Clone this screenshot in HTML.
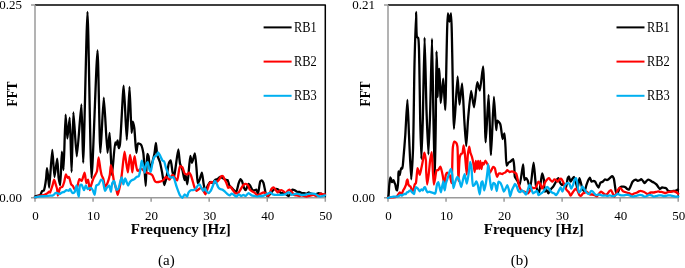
<!DOCTYPE html>
<html><head><meta charset="utf-8"><style>
html,body{margin:0;padding:0;background:#fff;width:685px;height:268px;overflow:hidden;}
svg{display:block;will-change:transform;}
</style></head><body>
<svg width="685" height="268" viewBox="0 0 685 268">
<style>
.tk { font-family: "Liberation Serif", serif; font-size: 13.3px; fill: #000; }
.lg { font-family: "Liberation Serif", serif; font-size: 13.6px; fill: #000; }
.ttl { font-family: "Liberation Serif", serif; font-size: 14.5px; font-weight: bold; fill: #000; }
.sub { font-family: "Liberation Serif", serif; font-size: 15px; fill: #000; }
.d polyline, .d path { fill: none; stroke-width: 2.3; stroke-linejoin: round; stroke-linecap: round; }
</style>
<rect width="685" height="268" fill="#fff"/>
<path d="M35,4.9 H325.3 V197.8" stroke="#000" stroke-width="1.5" stroke-linejoin="round" fill="none"/>
<path d="M35,4.9 V197.8 M31,4.9 H35 M31,197.8 H35" stroke="#9a9a9a" stroke-width="1.5" fill="none"/>
<path d="M35,197.8 H325.3 M35.00,197.8 V201.8 M93.06,197.8 V201.8 M151.12,197.8 V201.8 M209.18,197.8 V201.8 M267.24,197.8 V201.8 M325.30,197.8 V201.8 " stroke="#9a9a9a" stroke-width="1.5" fill="none"/>
<path d="M388,4.9 H678.2 V197.8" stroke="#000" stroke-width="1.5" stroke-linejoin="round" fill="none"/>
<path d="M388,4.9 V197.8 M384,4.9 H388 M384,197.8 H388" stroke="#9a9a9a" stroke-width="1.5" fill="none"/>
<path d="M388,197.8 H678.2 M388.00,197.8 V201.8 M446.04,197.8 V201.8 M504.08,197.8 V201.8 M562.12,197.8 V201.8 M620.16,197.8 V201.8 M678.20,197.8 V201.8 " stroke="#9a9a9a" stroke-width="1.5" fill="none"/>
<g class="d">
<path d="M35.00,196.60 C35.00,196.60 36.57,195.92 37.00,195.80 C37.47,195.67 39.12,195.57 39.50,195.40 C39.79,195.27 40.41,194.76 40.60,194.50 C40.86,194.15 41.38,192.38 41.60,192.00 C41.75,191.74 42.19,191.16 42.40,191.00 C42.62,190.83 43.58,190.66 43.80,190.40 C44.17,189.98 44.70,187.43 44.90,186.50 C45.18,185.19 45.90,180.20 46.10,178.50 C46.33,176.57 46.79,168.21 47.00,168.20 C47.18,168.20 47.81,173.60 48.00,175.20 C48.25,177.31 48.92,187.50 49.20,187.50 C49.69,187.50 51.73,150.00 52.30,150.00 C52.78,150.00 53.94,176.98 54.50,177.00 C54.96,177.02 56.79,158.69 57.20,158.70 C57.61,158.71 58.18,174.60 58.60,177.50 C58.86,179.35 59.93,185.02 60.20,185.00 C60.76,184.96 61.51,151.71 61.90,151.70 C62.19,151.69 63.21,170.01 63.50,170.00 C64.01,169.99 65.10,114.61 65.60,114.60 C65.93,114.59 66.97,138.49 67.40,138.50 C67.80,138.51 69.33,117.59 69.70,117.60 C70.30,117.62 71.24,172.00 71.60,172.00 C71.98,172.00 72.81,112.41 73.40,112.40 C73.91,112.39 76.04,156.40 76.80,156.40 C77.63,156.40 80.76,104.38 81.40,104.40 C82.08,104.42 82.77,162.80 83.20,162.80 C83.89,162.80 86.68,11.80 87.50,11.80 C88.36,11.80 90.50,177.89 91.60,177.90 C92.56,177.91 96.60,50.29 97.50,50.30 C98.31,50.31 99.62,152.79 100.40,152.80 C100.97,152.81 103.09,97.60 103.80,97.60 C104.51,97.60 106.79,152.79 107.50,152.80 C107.93,152.81 109.22,132.79 109.60,132.80 C110.15,132.81 111.27,174.98 111.90,175.00 C112.45,175.01 114.54,142.42 115.30,142.30 C115.51,142.26 116.19,144.72 116.40,144.70 C116.66,144.68 117.39,140.49 117.60,140.50 C117.89,140.52 118.51,148.18 118.80,148.20 C119.00,148.21 119.69,145.85 119.90,144.70 C120.76,140.10 123.00,85.70 123.70,85.70 C124.37,85.70 126.22,140.00 126.80,140.00 C127.38,140.00 129.01,86.90 129.50,86.90 C129.96,86.90 131.14,132.79 131.60,132.80 C131.83,132.81 132.47,121.72 132.80,121.70 C133.05,121.68 134.03,126.31 134.30,128.00 C134.82,131.31 135.81,152.78 136.30,152.80 C136.60,152.82 137.23,143.93 138.00,143.50 C138.45,143.25 140.52,144.17 141.00,144.70 C141.77,145.56 142.91,150.60 143.30,152.80 C144.07,157.17 145.30,186.00 145.70,186.00 C146.09,186.00 146.53,154.19 147.30,154.00 C147.51,153.95 148.29,155.39 148.50,156.00 C149.00,157.47 149.62,169.36 150.10,169.40 C150.47,169.43 151.98,163.51 152.40,162.00 C152.84,160.44 154.07,155.74 154.40,154.00 C154.79,151.97 155.62,142.90 155.90,142.90 C156.20,142.90 156.79,153.13 157.30,155.20 C157.69,156.79 159.45,160.48 159.90,162.00 C160.44,163.84 161.68,170.22 162.10,172.40 C162.56,174.80 163.79,184.97 164.30,185.00 C164.71,185.02 166.19,178.74 166.60,176.90 C167.12,174.56 168.16,165.09 168.80,163.40 C169.13,162.54 170.38,160.33 170.70,160.40 C171.27,160.52 172.09,170.17 172.50,172.00 C172.78,173.22 173.73,177.02 174.00,177.00 C174.36,176.98 175.16,170.12 175.50,168.00 C175.98,164.96 177.83,149.49 178.30,149.50 C178.71,149.51 179.46,161.16 180.00,163.40 C180.38,164.99 181.98,168.53 182.40,170.00 C182.91,171.78 184.16,180.00 184.50,180.00 C184.74,180.00 185.27,175.00 185.50,175.00 C185.82,175.00 187.04,184.42 187.40,184.40 C188.03,184.37 189.65,155.84 190.30,155.80 C190.62,155.78 191.59,162.79 192.00,162.80 C192.48,162.81 194.45,153.36 194.90,153.40 C195.50,153.46 196.39,167.80 196.70,171.00 C196.96,173.66 197.32,183.10 197.80,183.20 C198.06,183.25 199.16,180.79 199.50,180.00 C199.99,178.85 201.50,172.67 201.90,172.70 C202.39,172.74 203.30,182.37 203.70,184.40 C204.01,185.99 204.97,191.37 205.40,191.40 C205.80,191.43 207.27,186.51 207.80,185.50 C208.23,184.68 209.56,182.17 210.10,182.00 C210.53,181.87 212.03,183.11 212.50,183.00 C213.10,182.86 214.80,180.09 215.40,179.70 C215.85,179.41 217.27,179.25 217.70,179.00 C218.20,178.71 219.50,176.88 220.00,176.80 C220.47,176.73 221.99,177.73 222.50,178.00 C223.05,178.30 224.75,179.51 225.30,179.70 C225.75,179.86 227.14,179.70 227.50,180.00 C228.09,180.48 228.89,184.66 229.40,185.50 C229.79,186.13 231.24,187.43 231.70,187.90 C232.16,188.37 233.56,189.73 234.00,190.20 C234.42,190.65 235.63,192.58 236.00,192.50 C236.65,192.36 238.17,184.67 238.70,183.20 C239.06,182.20 240.11,179.15 240.50,179.10 C240.79,179.06 241.72,180.47 242.00,181.00 C242.47,181.92 243.51,186.92 244.00,187.90 C244.31,188.52 245.35,190.24 245.70,190.20 C246.25,190.14 248.07,183.87 248.60,183.80 C248.90,183.76 249.70,185.06 250.00,185.50 C250.48,186.19 252.06,189.83 252.70,190.20 C253.12,190.44 254.62,190.29 255.00,190.20 C255.29,190.13 255.98,189.52 256.20,189.60 C256.61,189.75 257.67,193.74 258.00,193.70 C258.55,193.64 259.61,182.50 260.30,181.40 C260.57,180.98 261.52,180.25 261.80,180.30 C262.17,180.37 263.22,182.31 263.50,183.00 C263.91,184.00 264.63,188.35 264.90,189.60 C265.15,190.72 265.60,194.28 266.10,194.90 C266.44,195.33 267.97,196.09 268.40,196.00 C268.92,195.88 270.30,193.71 270.80,193.10 C271.35,192.43 273.09,189.99 273.70,189.60 C274.14,189.32 275.53,189.00 276.00,189.00 C276.47,189.00 277.97,189.30 278.40,189.60 C278.95,189.99 280.15,192.80 280.70,193.10 C281.11,193.32 282.52,193.01 283.00,193.10 C283.57,193.21 285.42,194.01 286.00,194.30 C286.60,194.59 288.45,196.14 288.90,196.00 C289.39,195.85 290.24,193.16 290.60,192.50 C290.94,191.88 291.94,189.79 292.40,189.60 C292.79,189.45 294.26,189.99 294.70,190.20 C295.18,190.43 296.51,191.74 297.00,191.90 C297.45,192.05 298.94,191.79 299.40,191.90 C299.88,192.02 301.23,192.98 301.70,193.10 C302.15,193.21 303.54,193.04 304.00,193.10 C304.48,193.16 305.94,193.76 306.40,193.70 C306.88,193.64 308.24,192.50 308.70,192.50 C309.16,192.50 310.52,193.52 311.00,193.70 C311.46,193.88 312.92,194.24 313.40,194.30 C313.86,194.36 315.22,194.39 315.70,194.30 C316.26,194.19 318.04,193.14 318.60,193.10 C319.10,193.06 320.50,193.54 321.00,193.70 C321.56,193.88 323.45,194.79 323.90,194.90 C324.17,194.97 325.00,195.00 325.00,195.00" stroke="#000" />
<path d="M35.00,197.40 C35.00,197.40 36.61,197.07 37.00,196.90 C37.42,196.72 38.58,195.72 39.00,195.60 C39.38,195.49 40.59,195.64 41.00,195.60 C41.43,195.56 42.79,195.32 43.20,195.20 C43.58,195.09 44.61,194.68 45.00,194.50 C45.48,194.28 47.17,193.42 47.60,193.10 C47.96,192.83 48.83,191.60 49.10,191.60 C49.32,191.60 49.93,192.64 50.10,192.60 C50.36,192.54 50.88,190.26 51.10,189.60 C51.37,188.79 52.31,186.05 52.60,185.10 C52.92,184.06 53.81,179.62 54.10,179.60 C54.30,179.59 54.91,181.55 55.10,182.10 C55.32,182.74 55.90,184.91 56.10,185.60 C56.30,186.29 56.93,188.20 57.10,189.00 C57.32,190.08 57.63,195.48 57.90,195.50 C58.20,195.52 59.43,188.72 60.10,187.90 C60.48,187.43 62.02,187.12 62.40,186.70 C62.92,186.11 63.88,183.07 64.20,182.00 C64.60,180.67 65.46,174.46 65.90,174.40 C66.21,174.36 67.33,177.83 67.70,177.90 C67.94,177.94 68.67,176.74 68.90,176.80 C69.41,176.94 70.62,183.46 71.20,184.40 C71.52,184.92 72.65,185.64 73.00,186.10 C73.49,186.75 74.85,190.51 75.30,190.50 C75.75,190.49 77.12,187.02 77.50,186.00 C77.96,184.79 78.81,179.30 79.40,179.10 C79.77,178.97 81.29,180.93 81.70,180.80 C82.42,180.58 84.14,172.66 84.60,172.70 C85.11,172.74 85.91,183.13 86.40,183.20 C86.69,183.24 87.81,179.66 88.10,179.70 C88.59,179.77 89.54,190.19 89.90,190.20 C90.14,190.21 90.80,186.53 91.10,185.50 C91.47,184.23 92.83,179.88 93.40,178.50 C93.99,177.08 96.39,173.19 96.90,171.50 C97.58,169.23 98.23,157.51 98.60,157.50 C98.94,157.49 100.05,167.27 100.40,169.20 C100.65,170.57 101.26,173.96 101.60,175.00 C101.89,175.89 103.09,178.05 103.40,179.00 C103.81,180.27 104.49,186.60 105.00,186.70 C105.38,186.78 106.98,184.09 107.40,183.20 C108.00,181.94 109.45,176.73 109.80,175.00 C110.17,173.13 110.60,165.12 110.90,165.10 C111.13,165.09 112.03,169.63 112.30,171.00 C112.67,172.85 113.64,180.02 114.10,182.00 C114.49,183.67 116.03,188.21 116.40,189.60 C116.70,190.75 117.32,194.89 117.60,194.90 C117.90,194.91 118.98,190.32 119.30,189.00 C119.69,187.36 120.80,181.58 121.10,179.70 C121.40,177.79 122.03,172.25 122.30,170.00 C122.68,166.92 124.07,151.71 124.50,151.70 C124.81,151.69 125.69,159.05 126.00,161.00 C126.35,163.16 127.49,172.40 127.80,172.40 C128.08,172.40 128.76,164.80 129.00,163.00 C129.22,161.33 129.87,155.00 130.10,155.00 C130.31,155.00 131.00,160.46 131.20,162.00 C131.45,163.87 132.07,172.40 132.30,172.40 C132.51,172.40 133.15,164.72 133.40,163.00 C133.62,161.53 134.36,156.20 134.60,156.20 C134.88,156.20 135.68,163.44 136.00,165.00 C136.26,166.27 136.96,170.36 137.40,170.70 C137.59,170.85 138.30,170.78 138.50,170.70 C138.74,170.60 139.31,169.76 139.60,169.60 C139.97,169.39 141.57,168.88 142.00,169.00 C142.46,169.13 143.56,170.66 144.00,171.00 C144.44,171.34 145.97,172.18 146.40,172.40 C146.73,172.57 147.55,172.96 147.90,173.10 C148.34,173.28 150.04,173.76 150.50,174.00 C150.93,174.23 152.06,174.97 152.40,175.40 C152.93,176.07 154.12,179.92 154.60,180.60 C154.89,181.01 155.73,181.85 156.10,182.00 C156.50,182.16 158.01,182.06 158.50,182.00 C159.04,181.93 160.79,181.51 161.30,181.30 C161.78,181.10 163.09,180.37 163.50,180.00 C164.00,179.55 165.33,176.98 165.80,176.90 C166.14,176.84 167.15,177.75 167.50,178.00 C167.91,178.29 169.23,179.78 169.60,179.70 C170.06,179.60 171.06,176.48 171.50,176.00 C171.79,175.68 172.80,174.93 173.10,175.00 C173.51,175.09 174.58,177.46 175.00,178.00 C175.40,178.51 176.82,180.41 177.20,180.30 C178.01,180.06 179.05,166.78 180.00,166.30 C180.41,166.09 181.99,166.96 182.40,167.40 C183.04,168.09 184.03,172.85 184.70,173.50 C185.13,173.92 186.85,174.50 187.30,174.40 C187.72,174.31 188.76,172.67 189.10,172.70 C189.46,172.73 190.50,174.40 190.80,175.00 C191.24,175.87 192.25,179.63 192.60,180.80 C192.95,181.97 193.85,185.65 194.30,186.70 C194.70,187.62 196.16,190.70 196.70,190.80 C197.12,190.88 198.52,189.29 199.00,189.00 C199.46,188.72 200.97,187.78 201.40,187.90 C201.94,188.06 203.28,190.73 203.70,191.40 C204.07,192.00 205.06,194.33 205.40,194.30 C205.88,194.26 207.36,189.08 207.80,187.90 C208.17,186.89 208.98,183.79 209.50,183.20 C209.88,182.77 211.43,182.00 211.90,182.00 C212.37,182.00 213.74,183.20 214.20,183.20 C214.66,183.20 216.06,182.32 216.50,182.00 C217.00,181.64 218.45,180.24 218.90,179.70 C219.40,179.10 220.69,176.48 221.20,176.20 C221.54,176.02 222.69,176.01 223.00,176.20 C223.45,176.48 224.35,179.00 224.70,179.70 C225.05,180.40 226.17,182.44 226.50,183.20 C226.87,184.06 227.69,187.70 228.20,187.90 C228.57,188.04 230.08,186.59 230.50,186.70 C231.04,186.83 232.41,189.54 232.90,190.20 C233.35,190.82 234.64,192.83 235.20,193.10 C235.70,193.34 237.60,193.36 238.10,193.10 C238.70,192.78 240.01,190.36 240.50,189.60 C241.06,188.74 242.76,185.47 243.40,184.90 C243.83,184.51 245.25,183.76 245.70,183.80 C246.19,183.84 247.71,185.01 248.10,185.50 C248.58,186.10 249.33,188.99 249.80,189.60 C250.19,190.10 251.69,191.06 252.20,191.40 C252.74,191.76 254.58,192.69 255.10,193.10 C255.60,193.50 256.81,195.31 257.30,195.40 C257.74,195.48 259.18,194.55 259.70,194.30 C260.34,193.99 262.56,192.57 263.20,192.50 C263.70,192.45 265.08,192.83 265.50,193.10 C266.02,193.44 267.37,196.00 267.80,196.00 C268.18,196.00 269.28,194.27 269.60,193.70 C270.02,192.95 270.92,189.67 271.40,189.00 C271.75,188.51 273.11,187.26 273.50,187.30 C273.91,187.34 275.00,189.11 275.40,189.60 C275.85,190.15 277.35,192.48 277.80,192.50 C278.16,192.52 279.13,191.03 279.50,190.80 C279.83,190.59 280.92,190.17 281.30,190.20 C281.74,190.24 283.16,191.08 283.60,191.40 C284.10,191.76 285.59,193.76 286.00,193.70 C286.41,193.64 287.30,191.22 287.70,190.80 C288.02,190.46 289.14,189.56 289.50,189.60 C289.95,189.65 291.35,191.49 291.80,192.00 C292.27,192.54 293.54,194.57 294.10,194.90 C294.60,195.20 296.45,195.28 297.00,195.40 C297.50,195.51 298.93,196.00 299.40,196.00 C299.87,196.00 301.24,195.40 301.70,195.40 C302.16,195.40 303.53,195.88 304.00,196.00 C304.47,196.12 305.93,196.60 306.40,196.60 C306.87,196.60 308.24,196.12 308.70,196.00 C309.16,195.88 310.53,195.51 311.00,195.40 C311.47,195.29 312.90,194.86 313.40,194.90 C313.96,194.94 315.75,195.97 316.30,196.00 C316.78,196.03 318.15,195.61 318.60,195.40 C319.10,195.17 320.50,193.79 321.00,193.70 C321.45,193.62 322.87,194.25 323.30,194.30 C323.66,194.35 325.00,194.30 325.00,194.30" stroke="#ff0000" />
<path d="M35.00,197.40 C35.00,197.40 39.00,196.52 40.00,196.40 C41.00,196.28 44.00,196.27 45.00,196.20 C46.02,196.13 49.26,195.76 50.10,195.70 C50.69,195.66 52.21,195.72 52.60,195.60 C52.88,195.51 53.47,195.09 53.70,194.90 C54.02,194.64 55.02,193.27 55.40,193.10 C55.73,192.96 56.83,193.02 57.20,193.10 C57.64,193.20 59.05,194.24 59.50,194.20 C59.99,194.16 61.40,192.73 61.90,192.50 C62.35,192.29 63.76,192.11 64.20,191.90 C64.68,191.67 66.01,190.30 66.50,190.20 C66.95,190.11 68.55,190.95 68.90,190.80 C69.23,190.67 69.74,189.00 70.00,189.00 C70.39,189.00 71.84,192.83 72.40,193.00 C72.82,193.12 74.33,192.34 74.70,191.90 C75.30,191.19 76.20,185.48 76.50,185.50 C76.82,185.52 77.53,191.78 77.80,193.00 C77.99,193.86 78.62,196.61 78.80,196.60 C79.11,196.57 79.33,186.35 80.00,185.50 C80.27,185.16 81.39,184.76 81.70,184.90 C82.26,185.14 83.58,190.21 84.00,190.20 C84.39,190.19 85.42,185.52 85.80,185.50 C86.14,185.48 87.16,188.82 87.60,189.00 C87.90,189.12 88.96,188.51 89.30,188.40 C89.64,188.29 90.69,187.80 91.00,187.90 C91.40,188.03 92.48,189.63 92.80,190.20 C93.22,190.95 94.29,194.93 94.60,194.90 C95.03,194.86 95.60,186.42 96.30,185.50 C96.66,185.02 98.19,184.80 98.60,184.40 C99.19,183.83 100.48,179.84 101.00,179.70 C101.32,179.61 102.40,180.37 102.70,180.80 C103.37,181.76 104.44,190.71 105.00,190.80 C105.33,190.85 106.38,188.43 106.80,187.90 C107.22,187.37 108.82,185.40 109.20,185.50 C109.73,185.64 110.61,191.92 110.90,191.90 C111.24,191.88 111.79,184.14 112.30,183.00 C112.59,182.36 113.78,180.73 114.10,180.80 C114.68,180.93 115.71,189.23 116.40,189.60 C116.71,189.77 117.89,189.33 118.20,189.00 C118.87,188.30 120.10,182.09 120.50,180.80 C120.77,179.95 121.46,177.29 121.70,177.30 C122.04,177.32 123.03,184.39 123.40,184.40 C123.74,184.41 124.76,178.52 125.20,178.50 C125.68,178.48 127.57,185.48 128.10,185.50 C128.48,185.52 129.45,182.57 129.90,182.00 C130.29,181.50 131.71,180.29 132.20,180.00 C132.64,179.73 134.08,179.38 134.50,179.10 C134.95,178.80 136.05,177.28 136.50,177.00 C136.90,176.75 138.36,176.66 138.70,176.30 C139.26,175.71 139.93,171.73 140.20,170.40 C140.55,168.71 141.34,160.72 141.70,160.70 C141.97,160.68 142.92,164.79 143.20,165.90 C143.52,167.15 144.41,172.61 144.70,172.60 C145.02,172.59 145.75,165.49 146.20,164.40 C146.45,163.78 147.44,162.15 147.70,162.20 C148.11,162.28 148.82,167.84 149.20,168.90 C149.46,169.64 150.44,171.93 150.70,171.90 C151.09,171.85 151.88,165.81 152.20,164.40 C152.49,163.13 153.32,159.28 153.70,158.40 C153.95,157.83 154.77,156.51 155.10,156.20 C155.37,155.95 156.34,155.67 156.60,155.40 C156.97,155.03 157.78,152.52 158.10,152.50 C158.39,152.48 159.32,154.22 159.60,154.70 C159.92,155.24 160.80,157.10 161.10,157.70 C161.40,158.30 162.23,160.34 162.60,160.70 C162.86,160.96 163.85,161.11 164.10,161.40 C164.56,161.93 165.29,165.60 165.60,166.60 C165.89,167.54 166.79,170.24 167.10,171.10 C167.39,171.90 168.22,174.23 168.60,174.90 C168.94,175.50 170.09,177.27 170.60,177.50 C171.07,177.71 172.92,176.98 173.40,177.30 C174.31,177.90 175.93,184.86 176.60,186.70 C177.25,188.48 179.25,194.25 180.00,195.40 C180.45,196.09 181.95,197.85 182.40,197.80 C182.90,197.75 184.20,194.36 184.70,194.30 C185.15,194.25 186.73,196.69 187.10,196.60 C187.52,196.50 188.09,193.17 188.50,192.50 C188.86,191.92 190.30,190.41 190.80,190.20 C191.21,190.03 192.56,190.30 193.00,190.20 C193.50,190.09 195.06,189.39 195.50,189.00 C196.05,188.52 197.31,185.97 197.80,185.50 C198.15,185.17 199.28,184.31 199.60,184.40 C200.04,184.52 201.04,187.24 201.40,187.90 C201.74,188.51 202.74,190.78 203.10,190.80 C203.44,190.82 204.56,188.38 204.90,188.40 C205.26,188.42 206.21,190.91 206.60,191.40 C206.93,191.82 208.02,193.11 208.40,193.10 C208.83,193.09 210.29,191.40 210.70,190.80 C211.25,190.00 212.58,186.53 213.00,185.50 C213.39,184.54 214.39,180.85 214.80,180.80 C215.11,180.76 216.18,182.64 216.50,183.20 C216.89,183.89 217.87,186.69 218.30,187.30 C218.62,187.76 219.68,188.77 220.10,189.00 C220.51,189.23 221.96,189.38 222.40,189.60 C222.89,189.84 224.25,191.00 224.70,191.40 C225.17,191.82 226.52,193.29 227.00,193.70 C227.46,194.09 228.93,195.40 229.40,195.40 C229.87,195.40 231.23,193.74 231.70,193.70 C232.15,193.66 233.54,194.62 234.00,194.90 C234.49,195.20 235.94,196.64 236.40,196.60 C236.88,196.56 238.22,194.34 238.70,194.30 C239.15,194.27 240.52,195.95 241.00,196.00 C241.46,196.05 242.93,194.90 243.40,194.90 C243.87,194.90 245.24,196.08 245.70,196.00 C246.28,195.90 248.00,193.14 248.60,193.10 C249.18,193.06 250.94,195.11 251.60,195.40 C252.23,195.68 254.39,195.87 255.00,196.00 C255.51,196.11 256.83,196.60 257.30,196.60 C257.77,196.60 259.22,196.06 259.70,196.00 C260.18,195.94 261.63,196.06 262.10,196.00 C262.55,195.94 263.86,195.56 264.30,195.40 C264.78,195.23 266.23,194.53 266.70,194.30 C267.17,194.07 268.56,193.29 269.00,193.10 C269.38,192.94 270.47,192.42 270.80,192.50 C271.18,192.59 272.09,194.06 272.50,194.30 C272.91,194.54 274.42,194.84 274.90,194.90 C275.38,194.96 276.83,194.90 277.30,194.90 C277.75,194.90 279.05,194.90 279.50,194.90 C279.98,194.90 281.47,194.95 282.00,194.90 C282.62,194.84 284.68,194.54 285.30,194.30 C285.94,194.06 287.77,192.55 288.30,192.50 C288.68,192.46 289.68,192.90 290.00,193.10 C290.38,193.34 291.38,194.79 291.80,194.90 C292.20,195.01 293.63,194.42 294.10,194.30 C294.57,194.18 296.00,193.71 296.50,193.70 C297.05,193.69 298.86,194.17 299.40,194.30 C299.89,194.41 301.24,194.84 301.70,194.90 C302.16,194.96 303.54,194.96 304.00,194.90 C304.48,194.84 305.87,194.41 306.40,194.30 C307.03,194.17 309.20,193.76 309.90,193.70 C310.60,193.64 312.78,193.62 313.40,193.70 C313.91,193.77 315.25,194.09 315.70,194.30 C316.20,194.53 317.60,195.77 318.10,196.00 C318.55,196.21 319.94,196.60 320.40,196.60 C320.86,196.60 322.24,196.12 322.70,196.00 C323.16,195.88 325.00,195.40 325.00,195.40" stroke="#00b0f0" />
<path d="M388.00,197.90 C388.00,197.90 388.50,195.74 388.60,195.00 C388.78,193.70 389.07,187.49 389.20,186.00 C389.29,184.94 389.58,182.37 389.70,181.50 C389.82,180.67 390.21,177.52 390.40,177.50 C390.54,177.49 391.05,179.07 391.20,179.50 C391.37,180.00 391.76,182.16 392.00,182.20 C392.23,182.24 393.25,180.17 393.50,180.20 C393.78,180.24 394.40,182.53 394.60,183.00 C394.75,183.35 395.17,184.10 395.30,184.50 C395.54,185.22 396.08,189.16 396.40,189.70 C396.54,189.94 397.06,190.45 397.20,190.40 C397.63,190.23 398.17,181.98 398.30,180.00 C398.42,178.22 398.26,171.54 398.50,171.50 C398.66,171.48 399.50,175.01 399.70,175.00 C399.93,174.98 400.39,171.07 400.60,170.30 C400.75,169.75 401.17,168.09 401.40,168.00 C401.55,167.94 402.15,168.58 402.30,168.50 C402.77,168.26 403.17,161.09 403.40,158.70 C403.76,154.99 404.94,140.21 405.30,135.00 C405.74,128.66 407.03,99.80 407.40,99.80 C407.77,99.80 408.65,127.55 409.00,135.00 C409.40,143.37 410.76,179.40 411.20,179.40 C411.56,179.40 412.71,157.43 413.00,150.00 C413.50,137.31 414.14,79.06 414.50,64.00 C414.78,52.26 415.82,11.80 416.10,11.80 C416.30,11.80 416.19,35.35 417.00,37.00 C417.20,37.41 418.00,37.59 418.20,38.00 C419.03,39.68 419.12,57.81 419.30,64.00 C419.56,73.08 419.96,109.81 420.20,120.00 C420.40,128.50 421.14,159.00 421.40,159.00 C421.66,159.00 422.53,129.24 422.80,120.00 C423.19,106.57 424.22,37.60 424.60,37.60 C424.96,37.60 426.06,97.28 426.50,110.00 C426.84,119.96 428.03,154.40 428.40,154.40 C428.77,154.40 429.87,119.93 430.20,110.00 C430.61,97.42 431.69,38.70 432.00,38.70 C432.31,38.70 433.02,95.81 433.30,110.00 C433.58,124.06 434.54,180.00 434.80,180.00 C435.04,180.00 435.63,132.41 435.80,120.00 C435.98,106.73 436.28,51.30 436.50,51.30 C436.62,51.30 437.09,65.92 437.20,70.00 C437.33,74.90 437.48,97.00 437.60,97.00 C437.72,97.00 437.98,74.56 438.40,72.00 C438.55,71.09 439.14,68.98 439.30,69.00 C439.82,69.07 440.25,102.99 440.70,103.00 C441.08,103.01 442.77,78.59 443.20,78.60 C443.69,78.61 444.83,110.01 445.20,110.00 C445.84,109.99 446.94,13.38 447.90,13.30 C448.18,13.28 449.19,21.50 449.50,21.50 C449.81,21.50 450.73,13.48 451.00,13.50 C452.02,13.58 453.12,128.88 454.00,128.90 C454.59,128.91 457.00,76.30 457.60,76.30 C458.04,76.30 459.00,104.59 459.50,104.60 C459.93,104.61 461.66,83.49 462.10,83.50 C462.68,83.52 463.85,113.32 464.30,120.00 C464.68,125.64 465.83,146.00 466.20,146.00 C466.57,146.00 467.53,125.34 468.00,120.00 C468.50,114.34 470.40,90.92 471.10,90.90 C471.63,90.88 473.44,107.31 474.00,107.30 C474.69,107.28 476.52,82.26 477.30,82.20 C477.76,82.16 479.34,90.54 479.80,90.50 C480.57,90.44 482.57,66.37 483.10,66.40 C484.03,66.45 485.06,142.29 485.70,142.30 C486.21,142.31 488.09,94.99 488.60,95.00 C489.17,95.01 490.47,155.10 491.00,155.10 C491.53,155.10 493.30,96.81 493.90,96.80 C494.35,96.80 495.75,129.99 496.20,130.00 C496.44,130.01 496.81,120.87 497.40,120.70 C497.81,120.58 499.84,123.17 500.30,124.20 C501.14,126.07 502.07,138.96 502.60,139.00 C502.93,139.03 504.13,133.47 504.40,133.50 C504.82,133.55 505.29,144.08 505.50,147.00 C505.75,150.42 506.04,165.43 506.70,165.60 C506.98,165.67 508.07,163.12 508.50,162.70 C508.85,162.35 510.09,161.80 510.50,161.50 C511.00,161.13 512.72,159.06 513.10,159.20 C513.68,159.41 514.12,165.69 514.30,167.40 C514.49,169.24 514.43,175.60 514.90,177.00 C515.21,177.93 516.76,179.74 517.20,180.50 C517.70,181.36 519.16,185.27 519.60,185.20 C520.47,185.07 522.60,164.38 523.10,164.40 C523.53,164.42 523.86,179.80 524.50,180.00 C524.75,180.08 525.70,178.20 526.00,178.20 C526.30,178.20 527.21,179.46 527.50,180.00 C528.07,181.06 529.62,188.74 530.10,188.70 C530.92,188.64 533.01,162.69 533.60,162.70 C534.15,162.71 535.31,182.30 535.90,185.20 C536.19,186.62 537.08,189.66 537.50,190.40 C537.78,190.89 538.83,192.28 539.10,192.20 C539.67,192.04 540.47,183.67 540.80,181.70 C541.09,179.96 541.87,173.52 542.20,173.50 C542.48,173.49 543.55,177.91 543.80,179.30 C544.16,181.29 544.31,191.39 544.90,191.60 C545.15,191.69 546.19,189.96 546.50,190.00 C546.90,190.06 548.05,193.41 548.40,193.40 C548.75,193.39 549.61,190.56 550.00,190.00 C550.33,189.53 551.54,188.51 551.90,188.10 C552.28,187.67 553.36,186.32 553.70,185.80 C554.09,185.21 555.15,183.16 555.50,182.50 C555.85,181.86 556.85,179.75 557.20,179.30 C557.44,179.00 558.18,178.15 558.40,178.20 C558.79,178.29 559.69,182.05 560.10,182.80 C560.42,183.39 561.53,185.17 561.90,185.20 C562.23,185.22 563.26,183.46 563.60,183.50 C564.08,183.56 565.62,187.57 566.00,187.50 C566.54,187.40 567.25,179.31 567.70,178.20 C567.91,177.67 568.67,176.37 568.90,176.40 C569.27,176.45 570.19,181.65 570.60,181.70 C570.92,181.74 572.02,179.30 572.40,178.80 C572.72,178.38 573.80,176.93 574.10,177.00 C574.56,177.10 575.56,181.36 575.90,182.50 C576.26,183.70 577.29,188.72 577.60,188.70 C578.00,188.68 578.97,178.23 579.40,178.20 C579.72,178.18 580.85,182.83 581.20,184.00 C581.55,185.17 582.40,189.23 582.90,189.90 C583.19,190.29 584.31,191.11 584.60,191.00 C585.11,190.82 586.03,186.30 586.40,185.20 C586.73,184.21 587.71,181.31 588.10,180.50 C588.42,179.83 589.57,177.57 589.90,177.60 C590.28,177.63 591.14,181.50 591.60,181.70 C591.91,181.83 593.05,181.00 593.40,181.00 C593.75,181.00 594.80,181.42 595.10,181.70 C595.54,182.11 596.52,184.59 596.90,185.20 C597.22,185.72 598.29,187.54 598.60,187.50 C599.01,187.44 599.87,183.37 600.40,182.80 C600.78,182.39 602.26,182.01 602.70,181.70 C603.21,181.34 604.62,179.40 605.10,179.30 C605.46,179.22 606.55,180.00 606.90,180.00 C607.25,180.00 608.28,179.51 608.60,179.30 C608.97,179.06 609.94,177.91 610.30,177.60 C610.66,177.29 611.86,176.14 612.20,176.20 C612.57,176.26 613.55,177.88 613.80,178.50 C614.20,179.49 614.67,184.10 614.90,185.50 C615.13,186.90 615.64,191.92 616.10,192.50 C616.30,192.75 617.09,193.06 617.30,193.00 C617.56,192.92 618.20,191.80 618.40,191.40 C618.68,190.85 619.23,188.38 619.60,187.90 C619.88,187.53 621.01,186.82 621.40,186.70 C621.79,186.58 623.10,186.64 623.50,186.70 C623.89,186.76 625.05,187.09 625.40,187.30 C625.79,187.53 626.82,188.77 627.20,189.00 C627.52,189.20 628.60,189.72 628.90,189.60 C629.34,189.42 630.36,186.83 630.70,186.10 C631.06,185.32 631.98,182.61 632.40,182.00 C632.71,181.54 633.82,180.53 634.20,180.30 C634.52,180.10 635.56,179.66 635.90,179.70 C636.26,179.74 637.33,180.75 637.70,180.80 C638.05,180.85 639.16,180.46 639.50,180.30 C639.86,180.13 640.87,179.07 641.20,179.10 C641.57,179.14 642.65,180.60 643.00,181.00 C643.36,181.42 644.35,183.20 644.70,183.20 C645.05,183.20 646.12,181.36 646.50,181.00 C646.83,180.68 647.84,179.76 648.20,179.70 C648.54,179.64 649.66,180.13 650.00,180.30 C650.36,180.47 651.33,181.18 651.70,181.40 C652.12,181.64 653.55,182.31 654.00,182.60 C654.49,182.91 655.99,183.98 656.40,184.40 C656.80,184.81 657.75,186.24 658.10,186.70 C658.45,187.16 659.49,188.94 659.90,189.00 C660.31,189.06 661.72,187.39 662.20,187.30 C662.64,187.21 664.07,187.78 664.50,187.90 C664.88,188.00 665.97,188.18 666.30,188.40 C666.71,188.68 667.69,190.50 668.10,190.80 C668.43,191.04 669.54,191.34 669.90,191.40 C670.24,191.46 671.26,191.46 671.60,191.40 C671.96,191.34 673.05,190.86 673.40,190.80 C673.73,190.75 674.67,190.85 675.00,190.80 C675.35,190.74 676.48,190.33 676.80,190.20 C677.07,190.09 678.00,189.60 678.00,189.60" stroke="#000" />
<path d="M388.00,197.60 C388.00,197.60 392.13,197.48 393.00,197.40 C393.68,197.34 395.55,197.20 396.00,197.00 C396.32,196.86 396.96,196.26 397.20,196.00 C397.51,195.66 398.42,194.20 398.70,193.80 C398.93,193.47 399.57,192.32 399.80,192.30 C400.01,192.28 400.66,193.34 400.90,193.40 C401.11,193.45 401.81,193.27 402.00,193.10 C402.31,192.83 402.95,190.88 403.20,190.40 C403.41,190.00 404.09,188.99 404.30,188.60 C404.53,188.17 405.21,186.74 405.40,186.30 C405.56,185.92 405.97,184.94 406.10,184.50 C406.29,183.86 406.68,181.02 406.90,180.50 C407.02,180.22 407.48,179.47 407.60,179.50 C407.84,179.56 408.11,183.81 408.40,184.50 C408.57,184.92 409.26,185.77 409.50,186.00 C409.70,186.19 410.41,186.47 410.60,186.70 C410.90,187.07 411.43,189.22 411.70,189.70 C411.91,190.07 412.70,191.24 412.90,191.20 C413.19,191.14 413.81,188.20 414.00,187.50 C414.17,186.87 414.47,184.98 414.70,184.50 C414.88,184.12 415.69,183.50 415.90,183.00 C416.48,181.60 417.06,168.26 417.50,168.20 C417.70,168.17 418.39,170.39 418.60,171.00 C418.84,171.71 419.47,174.90 419.70,174.90 C419.98,174.90 420.92,170.25 421.20,169.00 C421.52,167.59 422.40,163.07 422.70,161.50 C423.02,159.80 423.97,152.60 424.30,152.60 C424.61,152.60 425.70,158.68 425.90,160.40 C426.14,162.48 426.08,169.64 426.20,172.00 C426.33,174.46 426.94,184.49 427.20,184.50 C427.43,184.51 428.33,177.12 428.60,175.00 C428.94,172.34 429.83,162.51 430.20,160.00 C430.47,158.18 431.46,152.18 431.70,152.20 C432.06,152.22 432.57,166.62 432.80,170.00 C433.01,173.05 433.58,184.48 433.90,184.50 C434.12,184.51 434.94,179.35 435.20,178.00 C435.48,176.55 436.03,171.13 436.60,170.50 C436.87,170.20 437.98,170.24 438.30,170.00 C438.77,169.65 440.05,166.65 440.40,166.70 C440.82,166.76 441.71,170.79 442.00,172.00 C442.37,173.54 443.34,179.15 443.60,180.90 C443.85,182.57 444.41,189.10 444.60,189.10 C444.85,189.10 445.25,176.59 445.80,175.00 C446.04,174.30 446.98,172.74 447.30,172.70 C447.57,172.67 448.44,173.69 448.70,174.00 C448.99,174.34 449.77,175.45 450.00,176.00 C450.41,176.97 451.34,183.22 451.60,183.20 C452.17,183.15 452.27,150.99 452.90,147.00 C453.14,145.45 453.93,141.87 454.40,141.70 C454.71,141.59 456.01,142.61 456.30,143.00 C456.66,143.49 457.22,145.42 457.40,146.50 C457.96,149.82 458.13,181.00 458.40,181.00 C458.63,181.00 459.17,159.57 459.80,157.00 C460.05,156.00 460.95,154.00 461.30,153.70 C461.49,153.54 462.13,153.60 462.30,153.40 C462.78,152.86 463.44,145.49 463.70,145.50 C463.98,145.51 464.75,152.76 465.00,155.00 C465.36,158.20 466.42,174.50 466.70,174.50 C466.98,174.50 467.46,158.08 467.80,155.00 C468.03,152.96 468.91,146.61 469.20,146.60 C469.45,146.60 470.18,151.91 470.50,153.00 C470.75,153.85 471.65,155.85 471.90,156.70 C472.22,157.78 473.04,161.62 473.30,163.00 C473.61,164.64 474.46,172.01 474.70,172.00 C474.97,171.99 475.55,160.81 475.80,160.80 C476.02,160.79 476.77,169.00 477.00,169.00 C477.23,169.00 477.88,160.80 478.10,160.80 C478.32,160.80 478.98,169.00 479.20,169.00 C479.42,169.00 480.08,160.80 480.30,160.80 C480.52,160.80 481.15,168.99 481.40,169.00 C481.62,169.01 482.26,163.07 482.60,163.00 C482.79,162.96 483.48,164.62 483.70,164.60 C484.03,164.57 485.05,160.62 485.40,160.60 C485.68,160.58 486.53,162.50 486.80,163.00 C487.09,163.52 487.95,165.01 488.20,165.70 C488.59,166.79 489.37,172.94 489.80,173.00 C490.09,173.04 491.16,170.61 491.50,170.00 C491.84,169.37 492.81,166.89 493.20,166.80 C493.49,166.74 494.55,167.60 494.80,168.00 C495.23,168.66 495.74,172.54 496.00,173.50 C496.21,174.27 496.83,176.88 497.10,176.90 C497.38,176.92 498.36,173.77 498.80,173.50 C499.09,173.32 500.16,173.44 500.50,173.50 C500.85,173.56 501.88,174.14 502.20,174.10 C502.54,174.06 503.46,173.17 503.80,173.00 C504.12,172.83 505.19,172.62 505.50,172.40 C505.89,172.12 506.79,170.26 507.20,170.20 C507.63,170.14 509.19,171.90 509.70,172.00 C510.15,172.08 511.58,171.38 512.00,171.40 C512.37,171.42 513.34,171.83 513.70,172.00 C514.15,172.22 515.72,172.99 516.10,173.50 C516.68,174.28 517.46,178.56 517.80,179.90 C518.16,181.35 519.09,186.31 519.60,187.50 C519.98,188.37 521.35,190.61 521.90,191.00 C522.31,191.30 523.78,191.41 524.20,191.60 C524.60,191.78 525.63,192.62 526.00,192.80 C526.35,192.97 527.45,193.51 527.80,193.40 C528.29,193.25 529.69,191.01 530.10,190.40 C530.49,189.83 531.38,187.66 531.80,187.50 C532.12,187.38 533.24,188.06 533.60,188.10 C533.94,188.14 535.01,188.09 535.30,187.90 C535.69,187.64 536.50,185.78 536.80,185.20 C537.14,184.55 538.12,181.74 538.50,181.70 C538.83,181.66 539.98,183.43 540.30,184.00 C540.71,184.75 541.63,188.68 542.00,188.70 C542.33,188.72 543.45,185.90 543.80,185.20 C544.15,184.50 545.12,182.32 545.50,181.70 C545.83,181.16 546.91,179.66 547.30,179.30 C547.62,179.00 548.68,178.15 549.00,178.20 C549.39,178.26 550.42,180.14 550.80,180.50 C551.12,180.81 552.18,181.75 552.50,181.70 C552.89,181.64 553.90,179.41 554.30,179.30 C554.61,179.21 555.67,179.79 556.00,180.00 C556.38,180.24 557.46,181.73 557.80,181.70 C558.17,181.66 559.10,179.58 559.50,179.30 C559.82,179.07 560.99,178.67 561.30,178.80 C561.72,178.97 562.68,181.04 563.00,181.70 C563.39,182.51 564.43,185.54 564.80,186.40 C565.13,187.16 566.07,189.31 566.50,189.90 C566.90,190.45 568.50,191.65 568.90,192.20 C569.33,192.79 570.23,195.67 570.60,195.70 C570.94,195.72 572.05,193.54 572.40,193.00 C572.75,192.48 573.73,190.85 574.10,190.40 C574.43,190.00 575.56,188.67 575.90,188.70 C576.26,188.73 577.28,190.45 577.60,191.00 C578.00,191.68 578.92,194.67 579.40,195.10 C579.71,195.38 580.88,195.80 581.20,195.70 C581.60,195.57 582.51,193.69 582.90,193.40 C583.21,193.17 584.27,192.97 584.60,192.80 C584.97,192.62 586.05,191.60 586.40,191.60 C586.75,191.60 587.76,192.53 588.10,192.80 C588.47,193.10 589.48,194.33 589.90,194.50 C590.30,194.66 591.74,194.44 592.20,194.50 C592.68,194.56 594.14,194.92 594.60,195.10 C595.08,195.28 596.47,196.39 596.90,196.30 C597.41,196.19 598.75,193.90 599.20,193.40 C599.57,192.99 600.63,191.63 601.00,191.60 C601.33,191.57 602.33,192.54 602.70,192.80 C603.14,193.11 604.60,194.41 605.10,194.50 C605.55,194.58 607.01,194.17 607.40,193.90 C607.85,193.59 608.81,191.79 609.20,191.40 C609.52,191.08 610.59,190.13 610.90,190.20 C611.29,190.28 612.27,192.49 612.60,193.10 C612.95,193.76 613.94,196.58 614.30,196.60 C614.62,196.62 615.67,194.58 616.00,194.00 C616.38,193.32 617.40,190.85 617.80,190.20 C618.13,189.66 619.21,187.97 619.60,187.90 C619.94,187.84 621.07,188.69 621.40,189.00 C621.79,189.36 622.69,191.10 623.10,191.40 C623.43,191.64 624.64,191.89 625.00,192.00 C625.33,192.10 626.27,192.39 626.60,192.50 C626.95,192.61 628.05,192.98 628.40,193.10 C628.75,193.22 629.77,193.53 630.10,193.70 C630.47,193.88 631.55,194.90 631.90,194.90 C632.25,194.90 633.24,193.88 633.60,193.70 C633.94,193.53 635.05,193.22 635.40,193.10 C635.75,192.98 636.76,192.66 637.10,192.50 C637.46,192.33 638.54,191.57 638.90,191.40 C639.24,191.24 640.25,190.80 640.60,190.80 C640.95,190.80 642.05,191.28 642.40,191.40 C642.75,191.52 643.76,191.84 644.10,192.00 C644.46,192.17 645.55,192.87 645.90,193.10 C646.25,193.33 647.25,194.30 647.60,194.30 C647.95,194.30 649.03,193.28 649.40,193.10 C649.73,192.93 650.71,192.57 651.10,192.50 C651.60,192.41 653.45,192.57 654.00,192.50 C654.51,192.44 655.96,192.02 656.40,191.90 C656.77,191.80 657.75,191.41 658.10,191.40 C658.47,191.39 659.63,191.85 660.00,191.90 C660.33,191.94 661.27,191.85 661.60,191.90 C661.95,191.96 663.05,192.38 663.40,192.50 C663.75,192.62 664.75,193.10 665.10,193.10 C665.45,193.10 666.55,192.62 666.90,192.50 C667.25,192.38 668.25,191.96 668.60,191.90 C668.95,191.84 670.04,191.95 670.40,191.90 C670.76,191.85 671.84,191.45 672.20,191.40 C672.54,191.35 673.56,191.35 673.90,191.40 C674.26,191.45 675.36,191.74 675.70,191.90 C676.06,192.07 677.11,192.90 677.40,193.10 C677.61,193.24 678.30,193.70 678.30,193.70" stroke="#ff0000" />
<path d="M388.00,197.90 C388.00,197.90 390.61,197.13 391.20,197.00 C391.69,196.89 392.97,196.65 393.50,196.60 C394.20,196.54 397.05,196.74 397.60,196.60 C397.90,196.52 398.48,196.13 398.70,196.00 C398.92,195.87 399.57,195.41 399.80,195.30 C400.01,195.19 400.69,194.87 400.90,194.90 C401.13,194.93 401.78,195.71 402.00,195.70 C402.24,195.69 402.93,194.79 403.20,194.60 C403.47,194.41 404.42,193.82 404.70,193.80 C404.93,193.78 405.61,194.27 405.80,194.20 C406.07,194.10 406.61,192.53 406.90,192.30 C407.15,192.11 408.14,192.05 408.40,191.90 C408.66,191.75 409.26,190.95 409.50,190.80 C409.71,190.67 410.40,190.34 410.60,190.40 C410.85,190.48 411.46,191.62 411.70,191.90 C411.93,192.16 412.66,192.88 412.90,193.10 C413.12,193.30 413.83,194.06 414.00,194.00 C414.24,193.92 414.53,191.81 414.70,191.20 C414.90,190.46 415.50,187.23 415.90,187.10 C416.19,187.00 417.45,188.13 417.80,188.50 C418.22,188.94 419.30,191.26 419.70,191.30 C420.05,191.33 421.16,189.52 421.50,189.50 C421.77,189.48 422.57,190.56 422.80,190.50 C423.13,190.42 423.90,187.90 424.20,187.60 C424.36,187.44 424.85,187.14 425.00,187.20 C425.30,187.31 426.02,189.85 426.30,190.40 C426.53,190.84 427.18,192.19 427.50,192.30 C427.81,192.40 429.02,191.60 429.40,191.60 C429.78,191.60 430.92,192.17 431.30,192.30 C431.68,192.43 432.82,192.77 433.20,192.90 C433.60,193.03 434.87,193.79 435.20,193.60 C435.91,193.20 436.64,185.16 437.10,184.00 C437.32,183.45 438.09,182.07 438.30,182.10 C438.62,182.15 439.34,186.18 439.60,187.20 C439.86,188.22 440.66,192.31 440.90,192.30 C441.16,192.29 441.84,187.71 442.10,186.60 C442.34,185.55 443.17,181.49 443.40,181.50 C443.71,181.52 444.43,190.40 444.70,190.40 C444.94,190.40 445.57,184.72 445.90,183.40 C446.20,182.19 447.43,178.88 447.80,177.70 C448.19,176.46 449.31,172.27 449.70,171.30 C449.95,170.67 450.77,168.77 451.00,168.80 C451.34,168.85 452.08,173.53 452.30,175.00 C452.61,177.12 453.02,187.96 453.40,188.00 C453.65,188.03 454.62,183.68 455.00,182.60 C455.39,181.48 456.82,177.07 457.30,177.00 C457.63,176.96 458.69,178.59 459.00,179.20 C459.53,180.25 460.80,187.01 461.20,187.00 C461.57,187.00 462.55,181.61 462.90,180.30 C463.23,179.05 464.25,174.19 464.60,174.20 C465.03,174.21 466.41,183.71 466.80,183.70 C467.18,183.69 468.18,176.66 468.50,174.70 C468.87,172.38 469.84,162.01 470.20,162.00 C470.45,161.99 471.27,166.47 471.50,168.00 C471.89,170.62 472.19,185.52 473.00,185.90 C473.27,186.03 474.31,185.13 474.60,184.80 C475.00,184.34 475.98,181.39 476.30,181.40 C476.62,181.41 477.52,184.10 477.80,185.00 C478.23,186.41 479.36,194.31 479.70,194.30 C480.08,194.29 480.88,183.71 481.40,182.60 C481.59,182.19 482.30,181.34 482.50,181.40 C482.97,181.53 483.84,190.39 484.20,190.40 C484.51,190.41 485.51,185.25 485.80,183.70 C486.19,181.62 487.25,173.51 487.50,171.40 C487.69,169.82 488.03,164.50 488.20,164.50 C488.44,164.50 489.36,175.39 489.70,178.00 C490.02,180.46 491.08,189.88 491.50,189.90 C491.82,189.92 492.75,183.23 493.30,183.00 C493.59,182.88 494.71,183.62 495.00,184.00 C495.55,184.73 496.47,191.01 496.80,191.00 C497.18,190.99 497.87,181.98 498.50,181.70 C498.80,181.57 499.99,182.45 500.30,182.80 C500.73,183.28 501.68,185.60 502.00,186.40 C502.38,187.34 503.40,191.56 503.80,191.60 C504.11,191.63 505.16,189.31 505.50,188.70 C505.86,188.04 506.97,185.17 507.30,185.20 C507.69,185.23 508.71,189.32 509.00,190.40 C509.30,191.53 509.91,196.29 510.20,196.30 C510.50,196.31 511.60,191.07 512.00,190.00 C512.31,189.17 513.39,187.05 513.70,186.40 C513.96,185.87 514.61,184.03 514.90,184.00 C515.21,183.97 516.38,185.81 516.70,186.40 C517.11,187.15 517.94,190.42 518.40,191.00 C518.71,191.39 519.86,192.24 520.20,192.20 C520.56,192.16 521.54,190.44 521.90,190.40 C522.23,190.37 523.25,191.28 523.60,191.60 C524.07,192.03 525.60,194.56 526.00,194.50 C526.43,194.43 527.37,191.30 527.70,190.40 C528.08,189.35 529.11,184.62 529.50,184.60 C529.84,184.58 530.96,187.85 531.30,188.70 C531.66,189.60 532.54,193.25 533.00,193.40 C533.31,193.50 534.41,192.43 534.80,192.20 C535.23,191.95 536.75,190.86 537.10,191.00 C537.56,191.18 538.09,194.96 538.50,195.10 C538.79,195.20 539.94,194.13 540.30,193.90 C540.64,193.67 541.67,193.07 542.00,192.80 C542.37,192.50 543.46,191.40 543.80,191.00 C544.16,190.58 545.14,189.12 545.50,188.70 C545.84,188.30 546.95,186.89 547.30,186.90 C547.65,186.90 548.68,188.28 549.00,188.70 C549.38,189.20 550.40,191.17 550.80,191.60 C551.11,191.93 552.14,192.62 552.50,192.80 C552.84,192.97 553.97,193.19 554.30,193.40 C554.67,193.63 555.67,195.12 556.00,195.10 C556.37,195.08 557.47,193.33 557.80,192.80 C558.18,192.19 559.17,189.88 559.50,189.30 C559.75,188.87 560.46,187.48 560.70,187.50 C561.04,187.53 562.06,191.60 562.40,191.60 C562.76,191.60 563.80,187.71 564.20,186.90 C564.53,186.23 565.60,184.43 566.00,184.00 C566.31,183.67 567.35,182.80 567.70,182.80 C568.05,182.80 569.19,183.61 569.50,184.00 C569.96,184.59 570.83,188.68 571.20,188.70 C571.53,188.72 572.68,186.01 573.00,185.20 C573.40,184.19 574.28,179.98 574.70,179.30 C574.92,178.95 575.69,178.15 575.90,178.20 C576.21,178.28 576.87,180.80 577.10,181.70 C577.48,183.23 578.14,191.91 578.80,192.20 C579.10,192.33 580.29,191.39 580.60,191.00 C581.06,190.42 581.90,186.46 582.30,186.40 C582.61,186.36 583.66,188.21 584.00,188.70 C584.37,189.24 585.41,191.11 585.80,191.60 C586.14,192.03 587.21,193.17 587.60,193.40 C587.92,193.59 588.99,194.02 589.30,193.90 C589.73,193.74 590.68,191.15 591.10,191.00 C591.41,190.89 592.49,191.37 592.80,191.60 C593.20,191.89 594.22,193.54 594.60,193.90 C594.92,194.21 595.92,195.03 596.30,195.10 C596.71,195.17 598.13,194.50 598.60,194.50 C599.07,194.50 600.53,194.98 601.00,195.10 C601.47,195.22 602.87,195.68 603.30,195.70 C603.66,195.71 604.63,195.39 605.00,195.40 C605.44,195.42 606.93,196.00 607.40,196.00 C607.87,196.00 609.24,195.40 609.70,195.40 C610.16,195.40 611.54,195.94 612.00,196.00 C612.46,196.06 613.88,196.12 614.30,196.00 C614.70,195.89 615.75,195.13 616.10,194.90 C616.45,194.67 617.45,193.70 617.80,193.70 C618.15,193.70 619.23,194.73 619.60,194.90 C619.95,195.06 621.01,195.35 621.40,195.40 C621.83,195.46 623.24,195.45 623.70,195.40 C624.16,195.35 625.53,194.95 626.00,194.90 C626.47,194.85 627.94,194.79 628.40,194.90 C628.88,195.01 630.23,195.83 630.70,196.00 C631.15,196.17 632.53,196.60 633.00,196.60 C633.47,196.60 634.93,196.12 635.40,196.00 C635.87,195.88 637.24,195.51 637.70,195.40 C638.16,195.29 639.53,194.90 640.00,194.90 C640.47,194.90 641.94,195.23 642.40,195.40 C642.88,195.57 644.23,196.55 644.70,196.60 C645.15,196.65 646.54,196.16 647.00,196.00 C647.48,195.83 648.92,194.95 649.40,194.90 C649.86,194.85 651.25,195.24 651.70,195.40 C652.17,195.57 653.52,196.54 654.00,196.60 C654.46,196.66 655.93,196.12 656.40,196.00 C656.87,195.88 658.24,195.46 658.70,195.40 C659.16,195.34 660.54,195.34 661.00,195.40 C661.48,195.46 662.92,195.94 663.40,196.00 C663.86,196.06 665.24,196.06 665.70,196.00 C666.18,195.94 667.62,195.46 668.10,195.40 C668.56,195.34 669.94,195.34 670.40,195.40 C670.88,195.46 672.33,195.88 672.80,196.00 C673.27,196.12 674.60,196.54 675.10,196.60 C675.68,196.67 678.30,196.60 678.30,196.60" stroke="#00b0f0" />
</g>
<text x="22" y="9.0" text-anchor="end" class="tk" textLength="22.75" lengthAdjust="spacingAndGlyphs">0.25</text>
<text x="22" y="201.8" text-anchor="end" class="tk" textLength="22.75" lengthAdjust="spacingAndGlyphs">0.00</text>
<text x="35.50" y="220.1" text-anchor="middle" class="tk" textLength="6.50" lengthAdjust="spacingAndGlyphs">0</text>
<text x="93.56" y="220.1" text-anchor="middle" class="tk" textLength="13.00" lengthAdjust="spacingAndGlyphs">10</text>
<text x="151.62" y="220.1" text-anchor="middle" class="tk" textLength="13.00" lengthAdjust="spacingAndGlyphs">20</text>
<text x="209.68" y="220.1" text-anchor="middle" class="tk" textLength="13.00" lengthAdjust="spacingAndGlyphs">30</text>
<text x="267.74" y="220.1" text-anchor="middle" class="tk" textLength="13.00" lengthAdjust="spacingAndGlyphs">40</text>
<text x="325.80" y="220.1" text-anchor="middle" class="tk" textLength="13.00" lengthAdjust="spacingAndGlyphs">50</text>
<text x="180.85" y="233.9" text-anchor="middle" class="ttl" textLength="100" lengthAdjust="spacingAndGlyphs">Frequency [Hz]</text>
<text x="166.45" y="264.7" text-anchor="middle" class="sub">(a)</text>
<text transform="translate(16.7,94) rotate(-90)" text-anchor="middle" class="ttl" textLength="24.8" lengthAdjust="spacingAndGlyphs">FFT</text>
<line x1="263.6" y1="27.4" x2="291.6" y2="27.4" stroke="#000" stroke-width="2"/>
<text x="294.0" y="31.5" class="lg" textLength="22.8" lengthAdjust="spacingAndGlyphs">RB1</text>
<line x1="263.6" y1="61.6" x2="291.6" y2="61.6" stroke="#ff0000" stroke-width="2"/>
<text x="294.0" y="65.7" class="lg" textLength="22.8" lengthAdjust="spacingAndGlyphs">RB2</text>
<line x1="263.6" y1="95.8" x2="291.6" y2="95.8" stroke="#00b0f0" stroke-width="2"/>
<text x="294.0" y="99.9" class="lg" textLength="22.8" lengthAdjust="spacingAndGlyphs">RB3</text>
<text x="375" y="9.0" text-anchor="end" class="tk" textLength="22.75" lengthAdjust="spacingAndGlyphs">0.21</text>
<text x="375" y="201.8" text-anchor="end" class="tk" textLength="22.75" lengthAdjust="spacingAndGlyphs">0.00</text>
<text x="388.50" y="220.1" text-anchor="middle" class="tk" textLength="6.50" lengthAdjust="spacingAndGlyphs">0</text>
<text x="446.54" y="220.1" text-anchor="middle" class="tk" textLength="13.00" lengthAdjust="spacingAndGlyphs">10</text>
<text x="504.58" y="220.1" text-anchor="middle" class="tk" textLength="13.00" lengthAdjust="spacingAndGlyphs">20</text>
<text x="562.62" y="220.1" text-anchor="middle" class="tk" textLength="13.00" lengthAdjust="spacingAndGlyphs">30</text>
<text x="620.66" y="220.1" text-anchor="middle" class="tk" textLength="13.00" lengthAdjust="spacingAndGlyphs">40</text>
<text x="678.70" y="220.1" text-anchor="middle" class="tk" textLength="13.00" lengthAdjust="spacingAndGlyphs">50</text>
<text x="533.80" y="233.9" text-anchor="middle" class="ttl" textLength="100" lengthAdjust="spacingAndGlyphs">Frequency [Hz]</text>
<text x="519.40" y="264.7" text-anchor="middle" class="sub">(b)</text>
<text transform="translate(369.7,94) rotate(-90)" text-anchor="middle" class="ttl" textLength="24.8" lengthAdjust="spacingAndGlyphs">FFT</text>
<line x1="616.5" y1="27.4" x2="644.5" y2="27.4" stroke="#000" stroke-width="2"/>
<text x="646.9" y="31.5" class="lg" textLength="22.8" lengthAdjust="spacingAndGlyphs">RB1</text>
<line x1="616.5" y1="61.6" x2="644.5" y2="61.6" stroke="#ff0000" stroke-width="2"/>
<text x="646.9" y="65.7" class="lg" textLength="22.8" lengthAdjust="spacingAndGlyphs">RB2</text>
<line x1="616.5" y1="95.8" x2="644.5" y2="95.8" stroke="#00b0f0" stroke-width="2"/>
<text x="646.9" y="99.9" class="lg" textLength="22.8" lengthAdjust="spacingAndGlyphs">RB3</text>
</svg>
</body></html>
